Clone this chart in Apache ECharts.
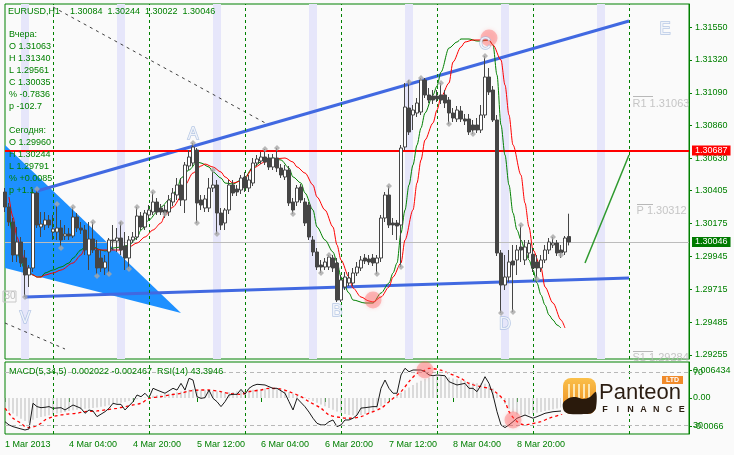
<!DOCTYPE html>
<html><head><meta charset="utf-8">
<script src="https://cdn.jsdelivr.net/npm/echarts@6/dist/echarts.min.js"></script>
<style>html,body{margin:0;padding:0;background:#fafafa}#c{width:734px;height:455px}</style>
</head><body><div id="c"></div>
<script>
// ---------- data ----------
const slotCount = 172; // hourly slots on the time axis (bars + empty right margin)
const xLabels = ['1 Mar 2013','4 Mar 04:00','4 Mar 20:00','5 Mar 12:00','6 Mar 04:00','6 Mar 20:00','7 Mar 12:00','8 Mar 04:00','8 Mar 20:00'];
const priceTicks = [1.29255,1.29485,1.29715,1.29945,1.30175,1.30405,1.30630,1.30860,1.31090,1.31320,1.31550];
const macdTicks = [0.006434, 0, -0.0066];
const rsiTicks = [30, 70];
const daySeparators = [12,36,60,84,108,132,156];
const sessionBands = [[4,6],[28,30],[52,54],[76,78],[100,102],[124,126],[148,150]];
// [open, close, low, high]
const candles = [
[1.30396,1.30291,1.30256,1.30424],[1.30291,1.30186,1.30158,1.30319],[1.30186,1.29955,1.29906,1.30214],[1.29955,1.30046,1.29906,1.30151],
[1.30046,1.29899,1.29871,1.30081],[1.29934,1.29815,1.29661,1.2999],[1.29815,1.29864,1.29731,1.29885],[1.29864,1.30389,1.29836,1.30417],
[1.30389,1.30165,1.30144,1.3041],[1.30151,1.30172,1.30081,1.30256],[1.30165,1.302,1.3013,1.30256],[1.302,1.30165,1.30144,1.30235],
[1.30116,1.30137,1.3006,1.30235],[1.30116,1.30144,1.3006,1.30305],[1.30144,1.3006,1.30011,1.302],[1.30088,1.30102,1.3006,1.30165],
[1.30102,1.30088,1.3006,1.30144],[1.30088,1.30221,1.30074,1.30291],[1.30221,1.30144,1.30116,1.30249],[1.30144,1.3013,1.30102,1.30186],
[1.3013,1.2999,1.29955,1.30165],[1.29955,1.30067,1.2985,1.30186],[1.30067,1.2999,1.29969,1.30186],[1.2999,1.29864,1.29815,1.3006],
[1.29934,1.29864,1.29836,1.2999],[1.29864,1.29906,1.29815,1.29955],[1.29976,1.3006,1.29822,1.30074],[1.3006,1.30053,1.2999,1.30165],
[1.30053,1.30074,1.29976,1.30144],[1.30074,1.2999,1.29955,1.30186],[1.30018,1.29934,1.2985,1.30116],[1.29934,1.3006,1.29857,1.30088],
[1.3006,1.30081,1.30039,1.30116],[1.30081,1.30228,1.3006,1.30291],[1.30228,1.30151,1.3013,1.30256],[1.30151,1.30249,1.3013,1.3027],
[1.30235,1.3027,1.302,1.30305],[1.30256,1.30326,1.30235,1.30396],[1.30326,1.30256,1.30235,1.30354],[1.30284,1.30256,1.30235,1.30312],
[1.3027,1.30249,1.30214,1.30305],[1.30256,1.3034,1.30228,1.30375],[1.30326,1.30389,1.30298,1.30424],[1.30375,1.30445,1.3034,1.30494],
[1.30445,1.3034,1.30298,1.30494],[1.3034,1.30585,1.30249,1.30606],[1.30578,1.30641,1.3055,1.3069],[1.30599,1.30711,1.30578,1.30739],
[1.3069,1.30319,1.30179,1.30704],[1.3034,1.30305,1.3027,1.30375],[1.30284,1.30347,1.30256,1.30375],[1.30284,1.30424,1.30256,1.30494],
[1.30424,1.30445,1.30396,1.3055],[1.30445,1.30249,1.30102,1.3048],[1.30249,1.30165,1.3013,1.30284],[1.30179,1.3027,1.3013,1.30284],
[1.3027,1.30445,1.30242,1.3048],[1.30445,1.30389,1.30368,1.3048],[1.30417,1.30396,1.30368,1.30445],[1.3041,1.30494,1.30382,1.30515],
[1.30501,1.30424,1.30396,1.30536],[1.30424,1.3048,1.30396,1.30515],[1.30459,1.30599,1.30438,1.30634],[1.30599,1.30627,1.30578,1.30655],
[1.30613,1.30641,1.30592,1.30676],[1.30641,1.30606,1.30585,1.30697],[1.30634,1.30571,1.3055,1.30662],[1.30571,1.30634,1.3055,1.30662],
[1.30634,1.30564,1.30536,1.30704],[1.30564,1.30515,1.30494,1.30592],[1.30501,1.3055,1.3048,1.30585],[1.3055,1.30319,1.30298,1.30578],
[1.30326,1.3027,1.30242,1.30354],[1.30326,1.30424,1.30298,1.30445],[1.30431,1.3034,1.30319,1.30452],[1.30326,1.30179,1.30158,1.30354],
[1.30305,1.30081,1.3006,1.30326],[1.3006,1.29976,1.29948,1.30088],[1.29976,1.29871,1.2985,1.30004],[1.29885,1.29871,1.29829,1.2992],
[1.29871,1.29906,1.2985,1.29934],[1.29871,1.29941,1.2985,1.29955],[1.29934,1.29864,1.29836,1.29955],[1.29899,1.2964,1.29626,1.29934],
[1.2964,1.2978,1.29626,1.29815],[1.29731,1.29801,1.2971,1.29836],[1.29759,1.29794,1.29738,1.29836],[1.29759,1.29829,1.29738,1.29864],
[1.29829,1.29871,1.29808,1.29906],[1.29864,1.2992,1.29843,1.29948],[1.29934,1.29913,1.29892,1.29962],[1.29927,1.29906,1.29885,1.29955],
[1.29934,1.29899,1.29878,1.29962],[1.29899,1.29934,1.29822,1.29955],[1.29934,1.30214,1.29906,1.30235],[1.30214,1.30375,1.30186,1.30396],
[1.30375,1.30165,1.30144,1.30438],[1.30179,1.30165,1.30095,1.30214],[1.30179,1.30158,1.3006,1.302],[1.30165,1.30704,1.29871,1.30725],
[1.30711,1.30991,1.3069,1.31159],[1.30984,1.30816,1.30795,1.3118],[1.30935,1.3097,1.3083,1.31005],[1.30949,1.31019,1.30921,1.31054],
[1.30956,1.3118,1.30935,1.31194],[1.3118,1.31075,1.31054,1.31194],[1.31075,1.3104,1.31019,1.31124],[1.31068,1.3104,1.31012,1.3111],
[1.31068,1.31047,1.31026,1.3111],[1.31075,1.3104,1.31012,1.31159],[1.31075,1.31019,1.30984,1.3111],[1.3104,1.30949,1.30872,1.31061],
[1.30949,1.30914,1.30886,1.30984],[1.30907,1.3097,1.30886,1.30998],[1.30963,1.30907,1.30886,1.30998],[1.30907,1.30893,1.30865,1.30942],
[1.30907,1.30816,1.30795,1.30942],[1.30865,1.3083,1.30802,1.309],[1.30865,1.3083,1.30809,1.30914],[1.3083,1.30935,1.30809,1.31005],
[1.30935,1.31201,1.30914,1.31348],[1.31201,1.31096,1.31075,1.31264],[1.3111,1.309,1.30886,1.31138],[1.309,1.29969,1.29948,1.30935],
[1.29969,1.29745,1.29549,1.2999],[1.29745,1.29801,1.2971,1.29955],[1.29801,1.29906,1.29766,1.2999],[1.29913,1.29885,1.29556,1.30025],
[1.2992,1.2999,1.29815,1.30025],[1.30011,1.2999,1.29906,1.30165],[1.2992,1.30011,1.29885,1.3006],[1.29969,1.30035,1.29934,1.3006],
[1.2996,1.29864,1.29836,1.30004],[1.29906,1.29864,1.29791,1.29955],[1.29864,1.2992,1.29836,1.29955],[1.2992,1.2999,1.29899,1.30025],
[1.2999,1.30046,1.29962,1.30074],[1.30025,1.30039,1.30004,1.30081],[1.30039,1.29969,1.29948,1.3006],[1.2999,1.29969,1.29934,1.30025],
[1.29976,1.30074,1.29955,1.30088],[1.30084,1.30046,1.30022,1.30244]
];
const maFast = [[1,1.30249],[2,1.30095],[3,1.2999],[4,1.29906],[5,1.2985],[6,1.29836],[7,1.29815],[8,1.29801],[9,1.29801],[10,1.29829],[12,1.2985],[14,1.29871],[16,1.29899],[17,1.29934],[19,1.2999],[20,1.30011],[22,1.30011],[24,1.2999],[25,1.29983],[27,1.30004],[29,1.30011],[30,1.30018],[31,1.30025],[33,1.30074],[34,1.3013],[36,1.302],[38,1.30256],[39,1.30291],[41,1.3034],[43,1.3041],[44,1.30494],[46,1.3055],[48,1.30606],[49,1.30599],[51,1.30571],[52,1.30536],[54,1.30494],[55,1.30459],[57,1.30452],[59,1.3048],[60,1.30501],[62,1.30571],[65,1.30627],[67,1.30634],[69,1.3062],[71,1.30564],[72,1.30501],[74,1.30459],[75,1.30389],[77,1.3027],[78,1.30151],[80,1.3006],[82,1.29976],[83,1.29906],[84,1.29801],[86,1.29689],[87,1.2964],[90,1.29619],[92,1.29619],[94,1.29689],[96,1.29759],[97,1.29829],[98,1.29899],[99,1.30109],[100,1.3027],[101,1.30445],[102,1.30585],[103,1.30725],[104,1.30844],[105,1.30949],[107,1.31075],[108,1.31138],[109,1.31236],[111,1.31404],[113,1.31446],[114,1.31467],[116,1.31467],[118,1.31453],[119,1.31453],[121,1.3146],[122,1.31425],[123,1.31215],[124,1.30865],[125,1.30655],[126,1.30445],[127,1.30249],[128,1.3013],[129,1.3006],[130,1.2999],[131,1.2992],[132,1.2985],[133,1.29759],[134,1.29675],[135,1.29605],[136,1.29535],[137,1.295],[138,1.29465],[139,1.29444]];
const maSlow = [[1,1.30361],[2,1.30221],[3,1.30081],[4,1.2999],[5,1.29899],[6,1.29836],[7,1.29815],[8,1.29801],[9,1.29801],[10,1.29815],[12,1.29829],[14,1.2985],[17,1.29899],[19,1.29955],[20,1.30004],[22,1.30004],[24,1.2999],[26,1.2999],[29,1.2999],[30,1.30004],[31,1.30011],[33,1.30039],[35,1.30081],[37,1.3013],[39,1.30179],[40,1.30235],[42,1.30291],[44,1.30361],[45,1.30445],[47,1.30529],[49,1.30578],[50,1.30592],[52,1.30571],[54,1.30536],[55,1.30501],[57,1.30459],[59,1.30473],[60,1.30494],[62,1.30564],[65,1.30606],[67,1.30627],[70,1.30634],[72,1.30606],[73,1.30571],[75,1.30529],[77,1.30445],[78,1.30361],[80,1.3027],[82,1.30151],[83,1.30025],[84,1.2992],[86,1.29801],[87,1.29724],[89,1.29661],[91,1.29633],[92,1.29626],[94,1.29661],[96,1.29731],[97,1.29801],[99,1.29899],[100,1.3006],[102,1.3027],[103,1.30459],[104,1.3062],[105,1.3076],[107,1.30879],[108,1.3097],[109,1.31061],[111,1.31159],[112,1.31306],[114,1.31411],[115,1.31446],[117,1.3146],[119,1.3146],[121,1.3146],[122,1.31425],[124,1.3132],[125,1.31145],[126,1.30935],[127,1.30725],[129,1.30515],[130,1.30319],[131,1.30151],[132,1.2999],[134,1.29864],[135,1.29731],[137,1.29619],[139,1.295],[140,1.29444]];
const fractalUp = [[8,1.30417],[13,1.30312],[17,1.30291],[22,1.30186],[29,1.30179],[33,1.30291],[37,1.30396],[47,1.30739],[52,1.3055],[65,1.30697],[68,1.30704],[81,1.29955],[96,1.30438],[101,1.31166],[104,1.31194],[109,1.31159],[120,1.31348],[129,1.30165],[137,1.30081]];
const fractalDown = [[5,1.29661],[14,1.30004],[23,1.29808],[26,1.29822],[31,1.29857],[40,1.30242],[48,1.30179],[53,1.30102],[72,1.30242],[79,1.29829],[93,1.29822],[99,1.29871],[111,1.30872],[117,1.30802],[124,1.29549],[127,1.29556],[133,1.29787],[139,1.29955]];
const levelLine = 1.30687;
const lastPrice = 1.30046;
const upperTrend = [[7.5,1.30403],[156,1.31593]];
const lowerTrend = [[5,1.29661],[156,1.29794]];
const wedge = [[0,1.30725],[43.75,1.29549],[0,1.29864]];
const dottedUpper = [[12,1.31691],[65.75,1.30865]];
const dottedLower = [[0,1.29479],[14.75,1.29297]];
const forecast = [[145.25,1.29899],[155.5,1.30655]];
const waveLabels = [['A',47,1.30795],['B',83,1.29556],['C',120,1.31425],['D',125,1.29465],['E',164.75,1.3153],['V',4.75,1.29507]];
const pivots = [['R1',1.31063,157],['P',1.30312,158],['S1',1.29284,157]];
const pivotEnd = 162;
const highlightsMain = [[92.25,1.2964],[120.75,1.31474]];
const highlightsRsi = [[104.5,71.5],[127,34.1]];
const macdHist = [
-0.0025,-0.0030,-0.0036,-0.0042,-0.0048,-0.0053,-0.0057,-0.0050,
-0.0046,-0.0044,-0.0042,-0.0040,-0.0038,-0.0036,-0.0034,-0.0032,
-0.0030,-0.0028,-0.0027,-0.0026,-0.0025,-0.0024,-0.0023,-0.0022,
-0.0020,-0.0019,-0.0017,-0.0015,-0.0013,-0.0011,-0.0009,-0.0007,
-0.0005,-0.0003,-0.0001,0.0001,0.0003,0.0005,0.0007,0.0008,
0.0009,0.0010,0.0011,0.0013,0.0015,0.0017,0.0019,0.0021,
0.0020,0.0019,0.0018,0.0017,0.0016,0.0015,0.0014,0.0013,
0.0013,0.0014,0.0015,0.0016,0.0017,0.0018,0.0019,0.0020,
0.0021,0.0022,0.0022,0.0021,0.0020,0.0018,0.0016,0.0013,
0.0010,0.0007,0.0004,0.0001,-0.0003,-0.0007,-0.0011,-0.0015,
-0.0019,-0.0023,-0.0027,-0.0031,-0.0034,-0.0037,-0.0039,-0.0040,
-0.0040,-0.0039,-0.0037,-0.0034,-0.0030,-0.0025,-0.0019,-0.0012,
-0.0006,0.0000,0.0006,0.0012,0.0018,0.0024,0.0030,0.0035,
0.0040,0.0044,0.0047,0.0049,0.0050,0.0050,0.0049,0.0047,
0.0045,0.0043,0.0041,0.0039,0.0037,0.0035,0.0034,0.0034,
0.0033,0.0030,0.0022,0.0010,-0.0002,-0.0014,-0.0025,-0.0033,
-0.0038,-0.0040,-0.0040,-0.0038,-0.0036,-0.0034,-0.0032,-0.0030,
-0.0028,-0.0026,-0.0024,-0.0022,-0.0020,-0.0018];
const macdSignal = [[0,-0.00237],[1,-0.00352],[2,-0.00467],[4,-0.00582],[5,-0.0066],[6,-0.00683],[8,-0.00637],[9,-0.00582],[10,-0.00506],[12,-0.0043],[14,-0.00391],[15,-0.00376],[18,-0.00352],[20,-0.00314],[23,-0.00299],[25,-0.00276],[28,-0.00237],[30,-0.002],[32,-0.00161],[34,-0.00122],[36,-0.00008],[39,0.0003],[41,0.00069],[44,0.00108],[46,0.00161],[49,0.00184],[51,0.00184],[54,0.00146],[56,0.00108],[59,0.00084],[61,0.00146],[64,0.00184],[66,0.00222],[69,0.00207],[71,0.00146],[74,0.0003],[76,-0.00084],[79,-0.00237],[81,-0.00391],[84,-0.00452],[86,-0.00467],[89,-0.0043],[91,-0.0035],[94,-0.00237],[96,-0.00084],[99,0.00146],[101,0.00376],[103,0.00567],[105,0.00644],[106,0.00682],[109,0.00644],[111,0.00567],[114,0.00452],[116,0.00337],[119,0.0026],[121,0.00222],[123,0.00108],[125,-0.00084],[126,-0.00314],[128,-0.00544],[130,-0.00621],[131,-0.00606],[134,-0.00544],[136,-0.00467],[139,-0.00376],[140,-0.00314]];
const rsi = [[0,32.8],[1,30.4],[2,29.1],[4,27.4],[5,26.6],[6,27.4],[7,46.6],[8,44.1],[9,43.3],[10,43.6],[11,44.1],[12,42.8],[14,43.3],[15,41.6],[17,45.3],[18,44.1],[19,42.8],[20,39.1],[21,41.6],[22,40.8],[23,36.6],[25,40.3],[26,42.8],[27,46.6],[28,45.8],[29,45.8],[30,41.6],[32,47.8],[33,52.8],[34,51.5],[35,54.1],[36,50.8],[37,57.8],[38,56.5],[39,55.3],[40,54.1],[42,57.8],[43,56.5],[44,61.5],[45,56.5],[46,65.3],[47,64.0],[48,51.5],[49,50.3],[50,50.8],[51,56.5],[52,50.3],[53,47.8],[54,44.1],[55,47.8],[56,52.8],[57,53.3],[58,53.3],[59,57.0],[60,53.3],[61,57.8],[62,59.8],[63,60.8],[65,60.3],[66,59.0],[67,57.8],[68,57.8],[70,54.1],[71,47.8],[72,41.6],[73,50.3],[75,44],[76,40],[77,35.4],[78,31.6],[79,30.4],[80,30.4],[81,32.8],[82,34.1],[83,29.1],[84,30.4],[85,34.1],[86,34.1],[87,35.4],[88,37.8],[89,43],[90,43.3],[92,44.1],[93,44.1],[94,57.8],[95,64.0],[96,57.8],[97,54.1],[98,54.1],[99,67.8],[100,72.8],[101,70.2],[102,71.5],[104,71.5],[105,70.2],[106,67.8],[107,67.2],[108,67.8],[110,67.2],[111,62.8],[112,61.5],[113,60.3],[115,61.5],[116,57.8],[117,57.8],[118,55.3],[119,60.3],[120,66.5],[121,61.5],[122,52.8],[123,40.3],[124,30.4],[125,28.4],[126,30.4],[127,32.8],[128,35.4],[129,36.6],[130,37.8],[131,36.6],[132,35.4],[134,37.8],[135,39.1],[137,40.3],[139,40.8],[140,40.8],[141,43.4]];
const titleText = 'EURUSD,H1    1.30084  1.30244  1.30022  1.30046';
const infoLines = ['Вчера:','O 1.31063','H 1.31340','L 1.29561','C 1.30035','% -0.7836','p -102.7','','Сегодня:','O 1.29960','H 1.30244','L 1.29791','% +0.0085','p +1.1'];
const indicatorText = 'MACD(5,34,5)  0.002022 -0.002467  RSI(14) 43.3946';

// ---------- chart ----------
const GREEN = '#008000';
const FONT = 'Liberation Sans';
const cats = Array.from({length: slotCount}, (_, i) => String(i));
const chart = echarts.init(document.getElementById('c'));

const textG = (x, y, t) => ({type:'text', x, y, z:50, silent:true,
  style:{text:t, fill:GREEN, font:'9px "' + FONT + '"', verticalAlign:'middle'}});

const graphics = [textG(8, 12, titleText)];
infoLines.forEach((t, k) => { if (t) graphics.push(textG(9, 35 + k * 12, t)); });
graphics.push(textG(9, 372, indicatorText));
graphics.push({type:'rect', z:50, silent:true, shape:{x:3,y:291,width:13,height:11}, style:{fill:'none', stroke:'#c8c8c8'}});
graphics.push({type:'text', z:50, silent:true, x:10, y:296.5, style:{text:'30', fill:'#c0c0c0', font:'10px "'+FONT+'"', align:'center', verticalAlign:'middle'}});
// logo
graphics.push({type:'rect', z:60, silent:true, shape:{x:561,y:379,width:126,height:35}, style:{fill:'#fafafa'}});
graphics.push({type:'rect', z:61, silent:true, shape:{x:563,y:378,width:33,height:36,r:8},
  style:{fill:new echarts.graphic.LinearGradient(0,0,0,1,[{offset:0,color:'#fbc04a'},{offset:1,color:'#e8861c'}])}});
[569,574,579,584,589].forEach(x => graphics.push({type:'line', z:62, silent:true, shape:{x1:x,y1:384,x2:x,y2:398}, style:{stroke:'#fde6b2', lineWidth:2}}));
graphics.push({type:'polygon', z:63, silent:true, shape:{smooth:0.3, points:[[563,403],[569,398],[576,397],[583,399],[590,397],[596,392],[596,408],[592,413],[586,414],[570,414],[564,411]]}, style:{fill:'#2a1a0c'}});
graphics.push({type:'text', z:63, silent:true, x:599, y:393, style:{text:'Panteon', fill:'#2b1d12', font:'22px "'+FONT+'"', verticalAlign:'middle'}});
['F','I','N','A','N','C','E'].forEach((ch, k) => graphics.push({type:'text', z:63, silent:true, x:605 + k * 12.8, y:410,
  style:{text:ch, fill:'#2b1d12', font:'bold 9px "'+FONT+'"', align:'center', verticalAlign:'middle'}}));
graphics.push({type:'rect', z:63, silent:true, shape:{x:662,y:376,width:21,height:8}, style:{fill:'#f08a2a'}});
graphics.push({type:'text', z:64, silent:true, x:672.5, y:380.5, style:{text:'LTD', fill:'#fff', font:'bold 7px "'+FONT+'"', align:'center', verticalAlign:'middle'}});

const lineSeg = (data, color, width, type, z) => ({type:'line', xAxisIndex:0, yAxisIndex:0, data, showSymbol:false, symbol:'none', silent:true, z,
  lineStyle:{color, width, type}});

const priceMarks = {silent:true, precision:6, symbol:['none','none'], data:[
  {yAxis:lastPrice, lineStyle:{color:'#bcbcbc', width:1, type:'solid'},
    label:{show:true, position:'end', distance:3, formatter:lastPrice.toFixed(5), color:'#fff', backgroundColor:'#007a00', padding:[1,3,0,3], fontSize:9}},
  {yAxis:levelLine, lineStyle:{color:'#ff0000', width:2, type:'solid'},
    label:{show:true, position:'end', distance:3, formatter:levelLine.toFixed(5), color:'#fff', backgroundColor:'#ff0000', padding:[1,3,0,3], fontSize:9}}
]};

const option = {
  animation:false,
  backgroundColor:'#fafafa',
  textStyle:{fontFamily:FONT},
  grid:[
    {left:5, top:4, width:684, height:355, show:true, borderColor:GREEN, borderWidth:1, backgroundColor:'#fafafa'},
    {left:5, top:362, width:684, height:72, show:true, borderColor:GREEN, borderWidth:1, backgroundColor:'#fafafa'}
  ],
  xAxis:[
    {type:'category', gridIndex:0, data:cats, boundaryGap:false, axisLine:{show:false}, axisTick:{show:false}, axisLabel:{show:false}, splitLine:{show:false}},
    {type:'category', gridIndex:1, data:cats, boundaryGap:false, axisLine:{show:false},
      axisTick:{show:true, interval:15, length:4, lineStyle:{color:GREEN}},
      axisLabel:{show:true, interval:15, align:'left', margin:6, color:GREEN, fontSize:9,
        formatter:(v, i) => (i % 16 === 0 && xLabels[i/16]) ? xLabels[i/16] : ''},
      splitLine:{show:false}}
  ],
  yAxis:[
    {type:'value', gridIndex:0, position:'right', min:1.29227, max:1.31712, splitLine:{show:false},
      axisLine:{show:true, lineStyle:{color:GREEN}},
      axisTick:{show:true, length:3, customValues:priceTicks, lineStyle:{color:GREEN}},
      axisLabel:{show:true, customValues:priceTicks, margin:6, color:GREEN, fontSize:9, formatter:v => v.toFixed(5)}},
    {type:'value', gridIndex:1, position:'right', min:-0.0083, max:0.0083, splitLine:{show:false},
      axisLine:{show:true, lineStyle:{color:GREEN}},
      axisTick:{show:true, length:3, customValues:macdTicks, lineStyle:{color:GREEN}},
      axisLabel:{show:true, customValues:macdTicks, margin:4, color:GREEN, fontSize:9, formatter:v => v === 0 ? '0.00' : String(v)}},
    {type:'value', gridIndex:1, position:'right', min:23.6, max:77.5, splitLine:{show:false},
      axisLine:{show:false}, axisTick:{show:false},
      axisLabel:{show:true, customValues:rsiTicks, margin:4, color:GREEN, fontSize:9}}
  ],
  graphic:graphics,
  series:[
    {type:'custom', xAxisIndex:0, yAxisIndex:0, z:2, silent:true, clip:true, data:[0],
      renderItem:(params, api) => ({type:'polygon', shape:{points:wedge.map(p => api.coord(p))}, style:{fill:'#1e90ff'}}),
      markArea:{silent:true, precision:6, itemStyle:{color:'#e6e6fa'}, data:sessionBands.map(b => [{xAxis:b[0]},{xAxis:b[1]}])}},
    Object.assign(lineSeg(dottedUpper, '#404040', 1, [3,4], 3), {
      markLine:{silent:true, precision:6, symbol:['none','none'], label:{show:false}, lineStyle:{color:GREEN, width:1, type:[3,3]},
        data:daySeparators.map(d => ({xAxis:d}))}}),
    lineSeg(dottedLower, '#404040', 1, [3,4], 3),
    lineSeg(upperTrend, '#4169e1', 3, 'solid', 4),
    lineSeg(lowerTrend, '#4169e1', 3, 'solid', 4),
    Object.assign(lineSeg(forecast, '#2e9a2e', 1.5, 'solid', 7), {markLine:priceMarks}),
    {type:'line', data:maFast, showSymbol:false, symbol:'none', smooth:0.3, smoothMonotone:'x', z:5, silent:true, lineStyle:{color:'#008000', width:1}},
    {type:'line', data:maSlow, showSymbol:false, symbol:'none', smooth:0.3, smoothMonotone:'x', z:5, silent:true, lineStyle:{color:'#ff0000', width:1}},
    {type:'candlestick', data:candles, barWidth:3, z:6, silent:true,
      itemStyle:{color:'#ffffff', color0:'#454545', borderColor:'#454545', borderColor0:'#454545', borderWidth:1}},
    {type:'scatter', data:fractalUp.concat(fractalDown), symbol:'diamond', symbolSize:6, z:7, silent:true, itemStyle:{color:'#a8a8a8'}},
    {type:'scatter', data:highlightsMain, symbolSize:17, z:8, silent:true, itemStyle:{color:'rgba(255,90,90,0.45)', shadowBlur:4, shadowColor:'rgba(255,90,90,0.5)'}},
    {type:'scatter', data:waveLabels.map(w => [w[1], w[2], w[0]]), symbolSize:1, z:9, silent:true, itemStyle:{color:'transparent'},
      label:{show:true, position:'inside', formatter:p => p.data[2], fontSize:16, color:'#ffffff', textBorderColor:'#a2b9de', textBorderWidth:1.4}},
    {type:'scatter', data:pivots.map(p => [p[2], p[1], p[0] + ' ' + p[1].toFixed(5)]), symbolSize:1, z:9, silent:true, itemStyle:{color:'transparent'},
      label:{show:true, position:[0,2], align:'left', verticalAlign:'top', formatter:p => p.data[2], fontSize:11, color:'#b8b8b8'},
      markLine:{silent:true, precision:6, symbol:['none','none'], label:{show:false}, lineStyle:{color:'#b8b8b8', width:1, type:'solid'},
        data:pivots.map(p => [{coord:[p[2], p[1]]},{coord:[pivotEnd, p[1]]}])}},
    {type:'bar', xAxisIndex:1, yAxisIndex:1, data:macdHist, barWidth:1, z:2, silent:true, itemStyle:{color:'#b9b9b9'},
      markLine:{silent:true, precision:6, symbol:['none','none'], label:{show:false}, lineStyle:{color:GREEN, width:1, type:[3,3]},
        data:daySeparators.map(d => ({xAxis:d}))}},
    {type:'line', xAxisIndex:1, yAxisIndex:1, data:macdSignal, showSymbol:false, symbol:'none', smooth:0.3, z:3, silent:true, lineStyle:{color:'#ff0000', width:1.3, type:[3,3]}},
    {type:'line', xAxisIndex:1, yAxisIndex:2, data:rsi, showSymbol:false, symbol:'none', z:4, silent:true, lineStyle:{color:'#1a1a1a', width:1},
      markLine:{silent:true, precision:6, symbol:['none','none'], label:{show:false}, lineStyle:{color:'#b8b8b8', width:1, type:[4,3]},
        data:rsiTicks.map(v => ({yAxis:v}))}},
    {type:'scatter', xAxisIndex:1, yAxisIndex:2, data:highlightsRsi, symbolSize:17, z:8, silent:true, itemStyle:{color:'rgba(255,90,90,0.45)', shadowBlur:4, shadowColor:'rgba(255,90,90,0.5)'}}
  ]
};
chart.setOption(option);
</script></body></html>
